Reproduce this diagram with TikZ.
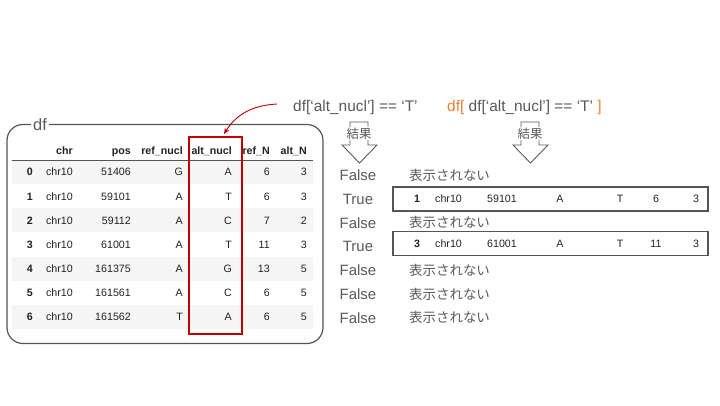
\documentclass[tikz,border=0pt]{standalone}
\usepackage{fontspec}
\setmainfont{Liberation Sans}
\newfontfamily\cjk{Noto Sans CJK JP}
\usetikzlibrary{arrows.meta}
\definecolor{txtgray}{HTML}{595959}
\definecolor{tabtxt}{HTML}{222222}
\definecolor{rowshade}{HTML}{F5F5F5}
\definecolor{redline}{HTML}{C00000}
\definecolor{orangetxt}{HTML}{E8823A}
\definecolor{linegray}{HTML}{555555}
\tikzset{
  cell/.style={font=\fontsize{10.7}{12}\selectfont, text=tabtxt, inner sep=0pt, anchor=base east},
  hcell/.style={cell, font=\fontsize{10.7}{12}\selectfont\bfseries},
  bigtxt/.style={font=\fontsize{15.5}{18}\selectfont, text=txtgray, inner sep=0pt, anchor=base west},
  tflabel/.style={font=\fontsize{15}{18}\selectfont, text=txtgray, inner sep=0pt, anchor=base},
  jptxt/.style={font=\cjk\fontsize{13.5}{16}\selectfont, text=txtgray, inner sep=0pt, anchor=base west},
  resbox/.style={draw=linegray, line width=1.1bp, minimum width=315bp, minimum height=24bp, inner sep=0pt},
  blockarrow/.style={draw=txtgray, line width=0.9bp, line join=miter},
  kekka/.style={font=\cjk\fontsize{12.5}{14}\selectfont, text=txtgray, fill=white, inner sep=0.4bp}
}
\begin{document}
\begin{tikzpicture}[x=1bp,y=-1bp]
\useasboundingbox (0,0) rectangle (720,405);

% outer df box
\node[draw=linegray, line width=1.2bp, rounded corners=16bp, minimum width=316bp, minimum height=219bp, inner sep=0pt] (dfbox) at (165,234) {};
\node[font=\fontsize{16.5}{18}\selectfont, text=txtgray, fill=white, inner sep=2bp] (dflabel) at (40,124.5) {df};

% shaded rows
\foreach \i in {0,2,4,6} {
  \fill[rowshade] (12,{172+24.17*\i-12}) rectangle (313,{172+24.17*\i+12});
}

% header
\node[hcell] (hchr) at (73,154) {chr};
\node[hcell] (hpos) at (131,154) {pos};
\node[hcell] (hrefnucl) at (183,154) {ref\_nucl};
\node[hcell] (haltnucl) at (232,154) {alt\_nucl};
\node[hcell] (hrefN) at (270,154) {ref\_N};
\node[hcell] (haltN) at (307,154) {alt\_N};
\draw[line width=1bp, color=linegray] (12,160) -- (313,160);

% rows
\foreach \i/\c/\p/\r/\a/\rn/\an in {0/chr10/51406/G/A/6/3, 1/chr10/59101/A/T/6/3, 2/chr10/59112/A/C/7/2, 3/chr10/61001/A/T/11/3, 4/chr10/161375/A/G/13/5, 5/chr10/161561/A/C/6/5, 6/chr10/161562/T/A/6/5} {
  \pgfmathsetmacro\yy{172+24.17*\i+3.9}
  \node[hcell] (idx\i) at (33,\yy) {\i};
  \node[cell] (chr\i) at (73,\yy) {\c};
  \node[cell] (pos\i) at (131,\yy) {\p};
  \node[cell] (ref\i) at (183,\yy) {\r};
  \node[cell] (alt\i) at (232,\yy) {\a};
  \node[cell] (refN\i) at (270,\yy) {\rn};
  \node[cell] (altN\i) at (307,\yy) {\an};
}

% red highlight box
\draw[redline, line width=1.2bp] (189,137) rectangle (242,334);
\coordinate (arrS) at (277,104);
\coordinate (arrE) at (224,134);
\draw[redline, line width=0.9bp, -{Stealth[length=6bp,width=5bp]}] (arrS) to[out=183,in=58] (arrE);

% top expressions
\node[bigtxt] (cond) at (293,111) {df[‘alt\_nucl’] == ‘T’};
\node[bigtxt] (sel) at (447,111) {{\color{orangetxt}df[} df[‘alt\_nucl’] == ‘T’ {\color{orangetxt}]}};

% block arrows
\draw[blockarrow] (350,122) -- (368,122) -- (368,145) -- (377,145) -- (359.5,163) -- (342,145) -- (350,145) -- cycle;
\node[kekka] (k1) at (359,133.5) {結果};
\draw[blockarrow] (521,122) -- (539,122) -- (539,145) -- (548,145) -- (530.5,163) -- (513,145) -- (521,145) -- cycle;
\node[kekka] (k2) at (530,133.5) {結果};

% True / False labels
\foreach \i/\t in {0/False, 1/True, 2/False, 3/True, 4/False, 5/False, 6/False} {
  \pgfmathsetmacro\yy{175+23.8*\i+5.4}
  \node[tflabel] (tf\i) at (358,\yy) {\t};
}
\foreach \i in {0,2,4,5,6} {
  \pgfmathsetmacro\yy{175+23.8*\i+5}
  \node[jptxt] (jp\i) at (409,\yy) {表示されない};
}

% result boxes
\node[resbox] (box1) at (550.5,199) {};
\node[resbox] (box2) at (550.5,243.5) {};
\foreach \b/\yy/\n/\p/\rn in {1/202.9/1/59101/6, 2/247.4/3/61001/11} {
  \node[hcell, anchor=base] (bi\b) at (417,\yy) {\n};
  \node[cell, anchor=base west] (bc\b) at (435,\yy) {chr10};
  \node[cell, anchor=base west] (bp\b) at (487,\yy) {\p};
  \node[cell, anchor=base] (br\b) at (560,\yy) {A};
  \node[cell, anchor=base] (ba\b) at (620,\yy) {T};
  \node[cell, anchor=base] (brn\b) at (656,\yy) {\rn};
  \node[cell, anchor=base] (ban\b) at (696,\yy) {3};
}
\end{tikzpicture}
\end{document}
